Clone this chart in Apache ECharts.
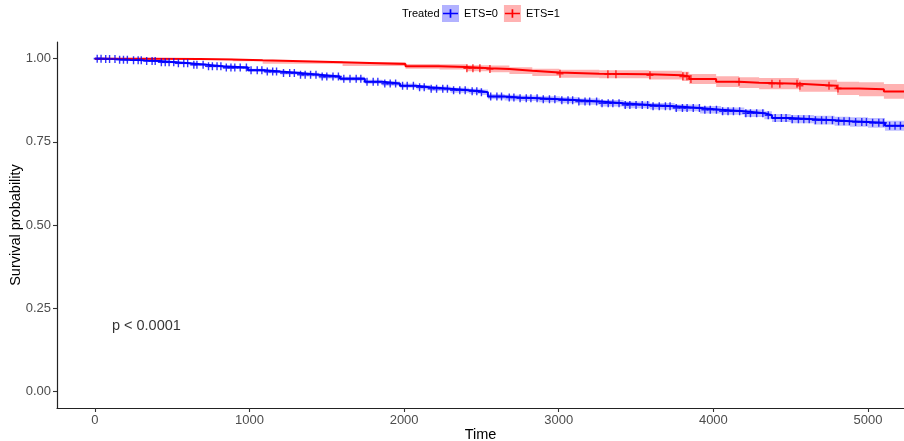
<!DOCTYPE html>
<html>
<head>
<meta charset="utf-8">
<script src="https://cdn.jsdelivr.net/npm/echarts@6/dist/echarts.min.js"></script>
<style>
  html, body { margin: 0; padding: 0; background: #fff; }
  #chart { width: 904px; height: 441px; }
</style>
</head>
<body>
<div id="chart"></div>
<script>
// Kaplan-Meier estimates: event times and survival after each time
const blueTime = [0, 60, 150, 226, 320, 420, 520, 614, 720, 828, 990, 1100, 1200, 1326, 1450, 1585, 1746, 1860, 1973, 2080, 2167, 2300, 2420, 2500, 2542, 2650, 2749, 2870, 3008, 3130, 3266, 3420, 3590, 3750, 3913, 4050, 4200, 4330, 4379, 4500, 4650, 4784, 4884, 5000, 5110, 5300];
const blueSurv = [1.000, 0.999, 0.997, 0.9955, 0.993, 0.9895, 0.986, 0.982, 0.977, 0.973, 0.9654, 0.961, 0.957, 0.9518, 0.946, 0.9398, 0.9307, 0.925, 0.9187, 0.914, 0.9096, 0.905, 0.902, 0.899, 0.886, 0.883, 0.881, 0.878, 0.875, 0.871, 0.866, 0.861, 0.857, 0.852, 0.8464, 0.842, 0.836, 0.830, 0.8214, 0.818, 0.815, 0.812, 0.8095, 0.807, 0.7985, 0.7985];
const blueCiHalf = [0, 0.001, 0.0015, 0.002, 0.0025, 0.003, 0.003, 0.0035, 0.004, 0.004, 0.0045, 0.005, 0.005, 0.0055, 0.0055, 0.006, 0.006, 0.0065, 0.0065, 0.007, 0.007, 0.0075, 0.0075, 0.008, 0.008, 0.0085, 0.0085, 0.009, 0.009, 0.0095, 0.0095, 0.010, 0.010, 0.0105, 0.011, 0.011, 0.0115, 0.012, 0.012, 0.0125, 0.013, 0.0135, 0.014, 0.0145, 0.015, 0.015];
const blueCensor = [15, 40, 70, 95, 130, 160, 185, 210, 250, 280, 300, 335, 370, 390, 430, 455, 480, 510, 540, 575, 600, 640, 660, 700, 735, 760, 790, 815, 850, 880, 905, 940, 980, 1010, 1050, 1080, 1115, 1150, 1175, 1220, 1260, 1290, 1330, 1360, 1395, 1430, 1470, 1500, 1540, 1575, 1610, 1650, 1690, 1720, 1760, 1800, 1830, 1875, 1910, 1945, 1990, 2020, 2060, 2100, 2130, 2175, 2210, 2250, 2280, 2320, 2360, 2395, 2440, 2470, 2500, 2560, 2600, 2630, 2680, 2710, 2750, 2790, 2820, 2860, 2900, 2940, 2975, 3020, 3060, 3090, 3130, 3170, 3200, 3245, 3280, 3320, 3350, 3390, 3430, 3460, 3500, 3540, 3575, 3610, 3650, 3690, 3720, 3760, 3800, 3830, 3870, 3910, 3945, 3980, 4020, 4060, 4095, 4130, 4170, 4210, 4240, 4280, 4320, 4355, 4400, 4440, 4470, 4510, 4550, 4585, 4620, 4660, 4700, 4730, 4770, 4810, 4845, 4880, 4920, 4960, 4990, 5030, 5070, 5100, 5140, 5175, 5210];

const redTime = [0, 355, 678, 891, 1085, 1602, 2009, 2229, 2403, 2552, 2681, 2829, 3004, 3262, 3585, 3798, 3844, 4018, 4167, 4296, 4554, 4800, 4942, 5103, 5300];
const redSurv = [1.0, 0.9991, 0.9976, 0.9949, 0.9889, 0.984, 0.9768, 0.975, 0.9714, 0.969, 0.9639, 0.9587, 0.9548, 0.9533, 0.9503, 0.9467, 0.9388, 0.9307, 0.9277, 0.9247, 0.9187, 0.9105, 0.9081, 0.9015, 0.9015];
const redCiHalf = [0, 0.001, 0.002, 0.003, 0.004, 0.006, 0.007, 0.008, 0.009, 0.010, 0.010, 0.011, 0.012, 0.012, 0.013, 0.014, 0.015, 0.016, 0.016, 0.017, 0.018, 0.020, 0.021, 0.022, 0.022];
const redCensor = [2406, 2445, 2490, 2555, 3008, 3318, 3370, 3590, 3803, 3829, 3855, 4166, 4379, 4430, 4541, 4560, 4748, 4806];

const groupNames = ['ETS=0', 'ETS=1'];
const legendTitle = 'Treated';
const timeTicks = [0, 1000, 2000, 3000, 4000, 5000];
const survTicks = [0, 0.25, 0.5, 0.75, 1];
const pText = 'p < 0.0001';
const pAt = [110, 0.195];

const FONT = 'Liberation Sans, Arial, Helvetica, sans-serif';
const PLUS = 'path://M4,0H6V4H10V6H6V10H4V6H0V4H4Z';
const KEY_PLUS = 'path://M0,0h0.01v0.01h-0.01Z M17.99,17.99h0.01v0.01h-0.01Z M1,8.1H17V9.9H1Z M8.1,4.5H9.9V13.5H8.1Z';

// survival value of a step curve at time t
function survAt(times, surv, t) {
  let s = surv[0];
  for (let i = 0; i < times.length; i++) {
    if (times[i] <= t) s = surv[i]; else break;
  }
  return s;
}

// confidence band drawn as one stepped polygon
function bandSeries(name, times, surv, half, fill) {
  return {
    name: name + ' band', type: 'custom', silent: true, z: 1,
    data: [[times[0], surv[0]]],
    renderItem: function (params, api) {
      const top = [], bottom = [];
      for (let i = 0; i < times.length; i++) {
        const t0 = times[i];
        const t1 = i + 1 < times.length ? times[i + 1] : times[i];
        const hi = surv[i] + half[i], lo = surv[i] - half[i];
        top.push(api.coord([t0, hi]), api.coord([t1, hi]));
        bottom.push(api.coord([t0, lo]), api.coord([t1, lo]));
      }
      const points = top.concat(bottom.reverse());
      return { type: 'polygon', shape: { points: points }, style: { fill: fill }, silent: true };
    }
  };
}

function groupSeries(name, times, surv, half, censor, color, fill) {
  return [
    bandSeries(name, times, surv, half, fill),
    {
      name: name, type: 'line', step: 'end',
      data: times.map((t, i) => [t, surv[i]]),
      showSymbol: false, color: color,
      lineStyle: { color: color, width: 2 }, z: 3
    },
    {
      name: name + ' censored', type: 'scatter',
      data: censor.map(t => [t, survAt(times, surv, t)]),
      symbol: PLUS, symbolSize: [7, 8],
      itemStyle: { color: color }, z: 4
    }
  ];
}

const chart = echarts.init(document.getElementById('chart'), null, { renderer: 'canvas' });

const legendBase = {
  orient: 'horizontal', left: 442, top: 5, padding: 0,
  itemWidth: 17, itemHeight: 17, itemGap: 6,
  selectedMode: false
};

chart.setOption({
  animation: false,
  backgroundColor: '#ffffff',
  grid: { left: 57, right: 0, top: 42, bottom: 33, containLabel: false, outerBoundsMode: 'none' },
  graphic: [{
    type: 'text', left: 402, top: 8,
    style: { text: legendTitle, fontFamily: FONT, fontSize: 11, fill: '#000' }
  }],
  legend: [
    Object.assign({}, legendBase, {
      data: [
        { name: groupNames[0], icon: 'rect', itemStyle: { color: 'rgba(0,0,255,0.3)' } },
        { name: groupNames[1], icon: 'rect', itemStyle: { color: 'rgba(255,0,0,0.3)' } }
      ],
      textStyle: { fontFamily: FONT, fontSize: 11, color: 'rgba(0,0,0,0)' }
    }),
    Object.assign({}, legendBase, {
      data: [
        { name: groupNames[0], icon: KEY_PLUS, itemStyle: { color: '#0000ff' } },
        { name: groupNames[1], icon: KEY_PLUS, itemStyle: { color: '#ff0000' } }
      ],
      textStyle: { fontFamily: FONT, fontSize: 11, color: '#000' }
    })
  ],
  xAxis: {
    type: 'value', min: -245, max: 5233,
    name: 'Time', nameLocation: 'middle', nameGap: 19, nameMoveOverlap: false,
    nameTextStyle: { fontFamily: FONT, fontSize: 14.5, color: '#000' },
    axisLine: { show: true, onZero: false, lineStyle: { color: '#222', width: 1.2 } },
    axisTick: { show: true, length: 4, customValues: timeTicks, lineStyle: { color: '#333', width: 1.1 } },
    axisLabel: {
      customValues: timeTicks, fontFamily: FONT, fontSize: 13, color: '#4d4d4d', margin: 6,
      formatter: v => String(v)
    },
    splitLine: { show: false }
  },
  yAxis: {
    type: 'value', min: -0.05, max: 1.05,
    name: 'Survival probability', nameLocation: 'middle', nameGap: 34, nameRotate: 90, nameMoveOverlap: false,
    nameTextStyle: { fontFamily: FONT, fontSize: 14.5, color: '#000' },
    axisLine: { show: true, onZero: false, lineStyle: { color: '#222', width: 1.2 } },
    axisTick: { show: true, length: 4, customValues: survTicks, lineStyle: { color: '#333', width: 1.1 } },
    axisLabel: {
      customValues: survTicks, fontFamily: FONT, fontSize: 13, color: '#4d4d4d', margin: 6,
      formatter: v => v.toFixed(2)
    },
    splitLine: { show: false }
  },
  series: [
    ...groupSeries(groupNames[0], blueTime, blueSurv, blueCiHalf, blueCensor, '#0000ff', 'rgba(0,0,255,0.25)'),
    ...groupSeries(groupNames[1], redTime, redSurv, redCiHalf, redCensor, '#ff0000', 'rgba(255,0,0,0.3)'),
    {
      name: 'pvalue', type: 'scatter', data: [pAt], symbolSize: 0, silent: true,
      label: {
        show: true, position: 'right', distance: 0, formatter: pText,
        fontFamily: FONT, fontSize: 14.5, color: '#000'
      }
    }
  ]
});
</script>
</body>
</html>
